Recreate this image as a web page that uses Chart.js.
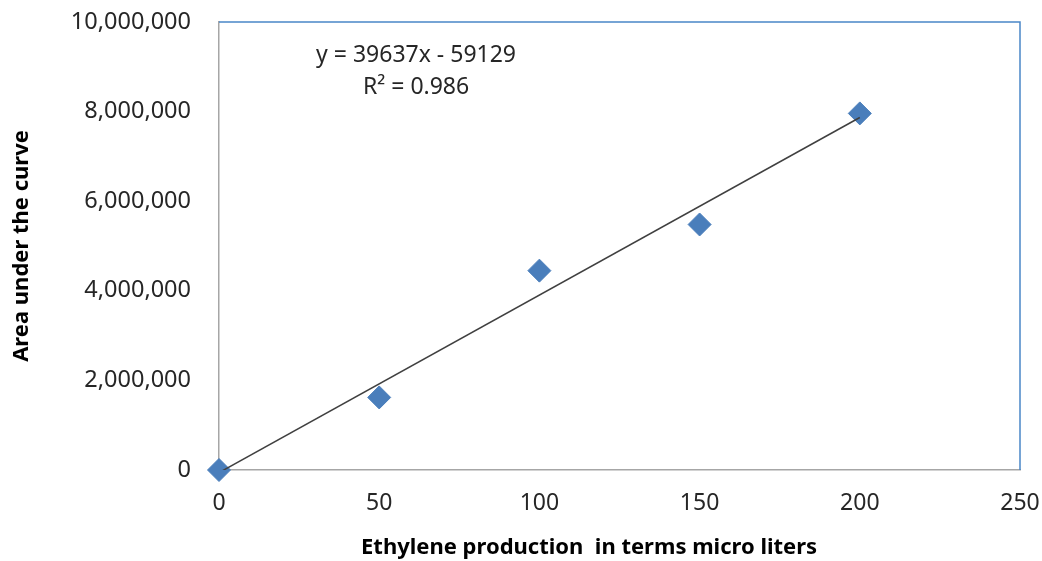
<!DOCTYPE html>
<html>
<head>
<meta charset="utf-8">
<script src="https://cdn.jsdelivr.net/npm/chart.js@4.4.1/dist/chart.umd.min.js"></script>
<style>
  html, body { margin: 0; padding: 0; background: #fff; }
  #wrap { width: 1042px; height: 561px; }
</style>
</head>
<body>
<div id="wrap"><canvas id="ethylene"></canvas></div>
<script>
// measured points
var volumes = [0, 50, 100, 150, 200];
var areas = [0, 1620000, 4450000, 5480000, 7960000];

// linear trendline end points (from fitted equation)
var trendX = [0, 200];
var trendY = [-59129, 7868271];

var equationText = ['y = 39637x - 59129', 'R² = 0.986'];
var xTitle = 'Ethylene production  in terms micro liters';
var xTicks = [0, 50, 100, 150, 200, 250];
var yTicks = [0, 2000000, 4000000, 6000000, 8000000, 10000000];

var FONT = "'Noto Sans', 'Open Sans', sans-serif";

// equation box and the x title (which sits a little left of centre in the original)
var extraText = {
  id: 'extraText',
  afterDraw: function(chart) {
    var ctx = chart.ctx;
    var xs = chart.scales.x, ys = chart.scales.y;
    ctx.save();
    ctx.font = '23px ' + FONT;
    ctx.fillStyle = '#262626';
    ctx.textAlign = 'center';
    ctx.textBaseline = 'middle';
    ctx.fillText(equationText[0], xs.getPixelForValue(61.5), ys.getPixelForValue(9260000));
    ctx.fillText(equationText[1], xs.getPixelForValue(61.5), ys.getPixelForValue(8550000));

    ctx.font = 'bold 22px ' + FONT;
    ctx.fillStyle = '#000';
    ctx.fillText(xTitle, xs.getPixelForValue(115.5), xs.bottom - 13);
    ctx.restore();
  }
};

var plotFrame = {
  id: 'plotFrame',
  beforeDatasetsDraw: function(chart) {
    var a = chart.chartArea, ctx = chart.ctx;
    ctx.save();
    ctx.strokeStyle = '#4a86c8';
    ctx.lineWidth = 1.5;
    ctx.beginPath();
    ctx.moveTo(a.left, a.top);
    ctx.lineTo(a.right, a.top);
    ctx.lineTo(a.right, a.bottom);
    ctx.stroke();
    ctx.restore();
  }
};

var config = {
  type: 'scatter',
  data: {
    datasets: [{
      label: 'Trend',
      type: 'line',
      data: trendX.map(function(x, i) { return { x: x, y: trendY[i] }; }),
      borderColor: '#404040',
      borderWidth: 1.5,
      pointRadius: 0,
      fill: false
    }, {
      label: 'Area',
      data: volumes.map(function(x, i) { return { x: x, y: areas[i] }; }),
      backgroundColor: '#4a7ebb',
      borderColor: '#4a7ebb',
      borderWidth: 1,
      pointStyle: 'rectRot',
      pointRadius: 11.5,
      pointHoverRadius: 11.5,
      clip: false
    }]
  },
  options: {
    responsive: true,
    maintainAspectRatio: false,
    animation: false,
    layout: { padding: { left: 0, top: 22, right: 22, bottom: 0 } },
    plugins: {
      legend: { display: false },
      tooltip: { enabled: false }
    },
    scales: {
      x: {
        type: 'linear',
        min: 0,
        max: 250,
        afterBuildTicks: function(s) { s.ticks = xTicks.map(function(v) { return { value: v }; }); },
        afterFit: function(s) { s.height = 91; s.paddingLeft = 0; s.paddingRight = 0; },
        grid: { display: false, drawTicks: false },
        border: { color: '#a6a6a6', width: 1.5 },
        ticks: {
          color: '#262626',
          font: { family: FONT, size: 23 },
          padding: 20
        },
        title: { display: false }
      },
      y: {
        type: 'linear',
        min: 0,
        max: 10000000,
        afterBuildTicks: function(s) { s.ticks = yTicks.map(function(v) { return { value: v }; }); },
        afterFit: function(s) { s.width = 219; s.paddingTop = 0; s.paddingBottom = 0; },
        grid: { display: false, drawTicks: false },
        border: { color: '#a6a6a6', width: 1.5 },
        ticks: {
          color: '#262626',
          font: { family: FONT, size: 23.5 },
          padding: 28,
          callback: function(v) { return v.toLocaleString('en-US'); }
        },
        title: {
          display: true,
          text: 'Area under the curve',
          color: '#000',
          font: { family: FONT, size: 22, weight: 'bold' },
          padding: { top: 9, bottom: 0 }
        }
      }
    }
  },
  plugins: [plotFrame, extraText]
};

window.onload = function() {
  var ctx = document.getElementById('ethylene').getContext('2d');
  window.ethyleneChart = new Chart(ctx, config);
};
</script>
</body>
</html>
